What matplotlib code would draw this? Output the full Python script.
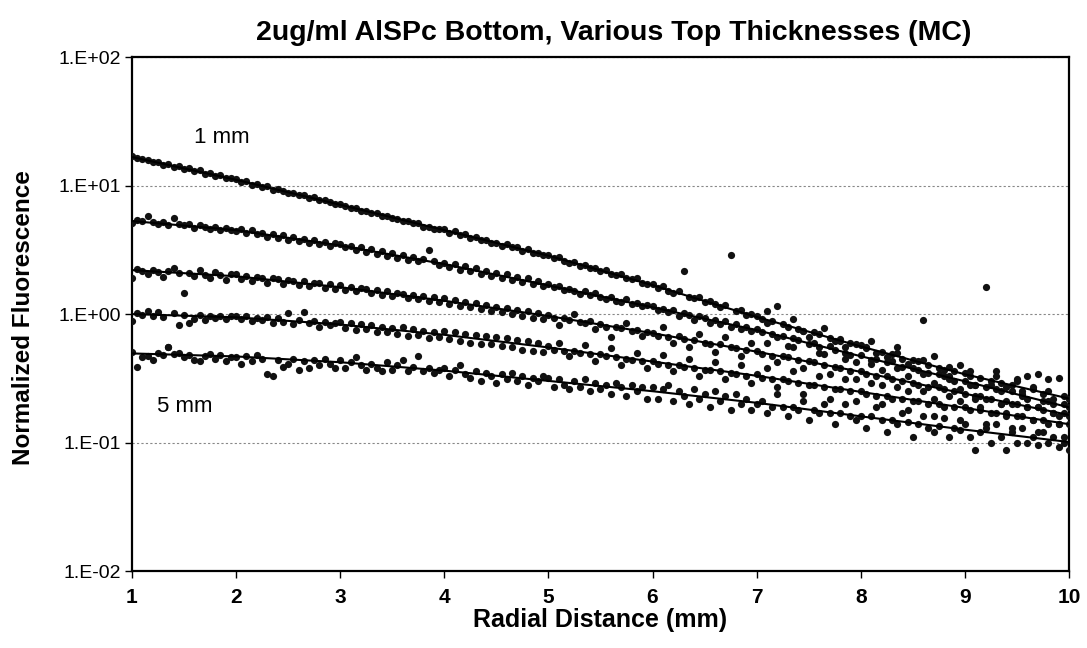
import numpy as np
import matplotlib
matplotlib.use("Agg")
import matplotlib.pyplot as plt
from matplotlib.ticker import NullLocator

# Arial look-alike
plt.rcParams['font.family'] = ['Liberation Sans', 'DejaVu Sans']

# radial positions of the Monte Carlo bins (mm)
radial = np.linspace(1, 10, 181)

# simulated points, one list per top thickness
mm1 = [16.9, 16.5, 16.1, 15.9, 15.2, 15.3, 14.6, 14.7, 14.0, 14.1, 13.4, 13.6, 12.9, 13.2, 12.4, 12.5, 11.9, 12.0, 11.4, 11.5,
       11.3, 10.7, 10.8, 10.2, 10.3, 9.8, 9.9, 9.3, 9.4, 9.0, 8.8, 8.8, 8.4, 8.4, 8.0, 8.1, 7.7, 7.7, 7.5, 7.2,
       7.2, 6.9, 6.7, 6.7, 6.4, 6.4, 6.1, 6.1, 5.8, 5.8, 5.6, 5.5, 5.3, 5.3, 5.1, 5.1, 4.8, 4.8, 4.6, 4.6,
       4.6, 4.3, 4.4, 4.1, 4.2, 3.9, 4.0, 3.8, 3.8, 3.6, 3.6, 3.4, 3.5, 3.3, 3.3, 3.1, 3.2, 3.0, 3.0, 2.9,
       2.9, 2.74, 2.76, 2.6, 2.5, 2.55, 2.38, 2.4, 2.28, 2.3, 2.15, 2.2, 2.05, 2.0, 2.06, 1.9, 1.86, 1.9, 1.75, 1.72,
       1.7, 1.6, 1.64, 1.52, 1.47, 1.5, 2.16, 1.36, 1.33, 1.37, 1.25, 1.27, 1.2, 1.14, 1.18, 2.88, 1.05, 1.08, 0.99, 1.0,
       0.96, 0.92, 1.05, 0.88, 1.15, 0.83, 0.8, 0.92, 0.77, 0.74, 0.66, 0.72, 0.7, 0.78, 0.65, 0.62, 0.64, 0.55, 0.6, 0.58,
       0.57, 0.54, 0.62, 0.5, 0.51, 0.46, 0.49, 0.55, 0.45, 0.41, 0.44, 0.43, 0.9, 0.4, 0.47, 0.38, 0.37, 0.33, 0.36, 0.4,
       0.35, 0.33, 0.28, 0.32, 1.62, 0.3, 0.36, 0.29, 0.27, 0.28, 0.31, 0.25, 0.33, 0.26, 0.34, 0.24, 0.31, 0.22, 0.32, 0.23, 0.22]

mm2 = [5.1, 5.4, 5.3, 5.8, 5.2, 5.0, 5.2, 4.9, 5.6, 5.0, 4.9, 5.0, 4.7, 4.9, 4.8, 4.6, 4.75, 4.55, 4.7, 4.5,
       4.4, 4.6, 4.3, 4.5, 4.2, 4.3, 4.0, 4.2, 3.9, 4.1, 3.8, 4.0, 3.7, 3.85, 3.6, 3.75, 3.5, 3.65, 3.4, 3.55,
       3.5, 3.3, 3.4, 3.15, 3.3, 3.05, 3.2, 2.95, 3.1, 2.85, 3.0, 2.75, 2.9, 2.65, 2.8, 2.6, 2.7, 3.15, 2.6, 2.4,
       2.5, 2.32, 2.45, 2.22, 2.35, 2.15, 2.28, 2.05, 2.18, 1.98, 2.1, 1.9, 2.05, 1.83, 1.95, 1.77, 1.9, 1.7, 1.82, 1.65,
       1.7, 1.62, 1.66, 1.55, 1.58, 1.5, 1.44, 1.5, 1.4, 1.45, 1.36, 1.3, 1.37, 1.27, 1.24, 1.3, 1.2, 1.22, 1.15, 1.17,
       1.16, 1.07, 1.1, 1.03, 1.08, 0.97, 1.02, 0.99, 0.9, 0.96, 0.93, 0.86, 0.9, 0.84, 0.88, 0.8, 0.83, 0.77, 0.79, 0.74,
       0.76, 0.72, 0.86, 0.7, 0.66, 0.68, 0.56, 0.65, 0.63, 0.74, 0.58, 0.6, 0.55, 0.49, 0.56, 0.53, 0.62, 0.5, 0.48, 0.42,
       0.48, 0.55, 0.44, 0.45, 0.37, 0.42, 0.43, 0.5, 0.39, 0.33, 0.38, 0.37, 0.44, 0.35, 0.29, 0.34, 0.33, 0.39, 0.3, 0.26,
       0.3, 0.36, 0.28, 0.23, 0.27, 0.28, 0.33, 0.25, 0.21, 0.25, 0.3, 0.23, 0.22, 0.27, 0.19, 0.21, 0.25, 0.2, 0.16, 0.2, 0.19]

mm3 = [1.92, 2.25, 2.15, 2.05, 2.22, 2.12, 1.95, 2.18, 2.28, 2.08, 1.46, 2.1, 1.98, 2.2, 2.02, 1.9, 2.12, 2.0, 1.85, 2.05,
       2.05, 1.88, 1.98, 1.82, 1.95, 1.92, 1.75, 1.9, 1.86, 1.7, 1.85, 1.8, 1.68, 1.82, 1.65, 1.74, 1.76, 1.6, 1.7, 1.58,
       1.68, 1.55, 1.62, 1.5, 1.6, 1.57, 1.45, 1.53, 1.42, 1.5, 1.38, 1.47, 1.44, 1.33, 1.42, 1.3, 1.39, 1.27, 1.36, 1.24,
       1.33, 1.2, 1.28, 1.16, 1.25, 1.13, 1.22, 1.1, 1.18, 1.06, 1.14, 1.03, 1.12, 1.0, 1.08, 0.97, 1.05, 0.94, 1.02, 0.92,
       0.98, 0.94, 0.82, 0.93, 0.9, 1.0, 0.87, 0.85, 0.88, 0.76, 0.84, 0.8, 0.66, 0.79, 0.78, 0.86, 0.74, 0.75, 0.68, 0.72,
       0.71, 0.68, 0.79, 0.66, 0.6, 0.67, 0.64, 0.55, 0.63, 0.7, 0.6, 0.59, 0.51, 0.58, 0.66, 0.55, 0.54, 0.47, 0.53, 0.6,
       0.52, 0.49, 0.6, 0.47, 0.42, 0.47, 0.46, 0.55, 0.44, 0.38, 0.43, 0.42, 0.5, 0.4, 0.34, 0.39, 0.38, 0.45, 0.36, 0.31,
       0.36, 0.34, 0.41, 0.33, 0.28, 0.33, 0.31, 0.38, 0.3, 0.25, 0.29, 0.28, 0.34, 0.27, 0.22, 0.27, 0.26, 0.31, 0.25, 0.21,
       0.24, 0.28, 0.23, 0.19, 0.22, 0.22, 0.26, 0.2, 0.17, 0.2, 0.2, 0.24, 0.19, 0.15, 0.19, 0.18, 0.21, 0.17, 0.14, 0.17, 0.16]

mm4 = [0.88, 1.02, 0.98, 1.05, 0.97, 1.03, 0.95, 0.55, 1.02, 0.82, 0.98, 0.85, 0.92, 0.99, 0.9, 0.96, 0.93, 0.97, 0.92, 0.96,
       0.96, 0.91, 0.97, 0.88, 0.94, 0.9, 0.95, 0.85, 0.93, 0.87, 1.02, 0.84, 0.9, 1.04, 0.85, 0.89, 0.79, 0.87, 0.82, 0.86,
       0.87, 0.78, 0.85, 0.75, 0.83, 0.76, 0.82, 0.72, 0.8, 0.73, 0.78, 0.7, 0.79, 0.68, 0.76, 0.69, 0.74, 0.65, 0.73, 0.66,
       0.74, 0.64, 0.72, 0.62, 0.7, 0.6, 0.69, 0.59, 0.68, 0.58, 0.66, 0.56, 0.65, 0.55, 0.63, 0.53, 0.62, 0.52, 0.6, 0.51,
       0.56, 0.53, 0.6, 0.52, 0.47, 0.52, 0.5, 0.57, 0.49, 0.43, 0.49, 0.47, 0.54, 0.46, 0.4, 0.45, 0.44, 0.5, 0.43, 0.38,
       0.43, 0.41, 0.48, 0.4, 0.36, 0.4, 0.39, 0.45, 0.38, 0.33, 0.37, 0.37, 0.42, 0.36, 0.31, 0.35, 0.34, 0.4, 0.33, 0.29,
       0.34, 0.32, 0.38, 0.31, 0.27, 0.31, 0.3, 0.36, 0.29, 0.24, 0.28, 0.28, 0.33, 0.27, 0.22, 0.26, 0.26, 0.31, 0.25, 0.21,
       0.25, 0.24, 0.29, 0.23, 0.2, 0.23, 0.22, 0.27, 0.22, 0.18, 0.21, 0.21, 0.25, 0.2, 0.16, 0.2, 0.19, 0.23, 0.19, 0.15,
       0.19, 0.18, 0.22, 0.18, 0.14, 0.17, 0.17, 0.2, 0.16, 0.13, 0.16, 0.16, 0.19, 0.15, 0.12, 0.15, 0.14, 0.17, 0.14, 0.11, 0.14]

mm5 = [0.51, 0.39, 0.46, 0.47, 0.44, 0.5, 0.48, 0.55, 0.49, 0.5, 0.46, 0.48, 0.44, 0.43, 0.47, 0.49, 0.45, 0.48, 0.43, 0.46,
       0.46, 0.41, 0.47, 0.43, 0.48, 0.45, 0.34, 0.33, 0.44, 0.39, 0.41, 0.45, 0.37, 0.43, 0.38, 0.44, 0.4, 0.45, 0.41, 0.38,
       0.44, 0.38, 0.42, 0.46, 0.4, 0.37, 0.41, 0.38, 0.36, 0.42, 0.37, 0.4, 0.44, 0.36, 0.39, 0.47, 0.36, 0.38, 0.35, 0.37,
       0.38, 0.33, 0.37, 0.4, 0.34, 0.32, 0.36, 0.3, 0.35, 0.33, 0.29, 0.34, 0.31, 0.35, 0.3, 0.33, 0.28, 0.32, 0.3, 0.33,
       0.32, 0.27, 0.31, 0.28, 0.26, 0.3, 0.27, 0.31, 0.25, 0.29, 0.26, 0.28, 0.24, 0.29, 0.27, 0.23, 0.28, 0.25, 0.27, 0.22,
       0.27, 0.22, 0.26, 0.28, 0.21, 0.25, 0.23, 0.2, 0.26, 0.22, 0.24, 0.19, 0.25, 0.21, 0.23, 0.18, 0.24, 0.2, 0.22, 0.18,
       0.2, 0.21, 0.17, 0.19, 0.24, 0.19, 0.16, 0.19, 0.18, 0.21, 0.15, 0.18, 0.17, 0.2, 0.17, 0.14, 0.17, 0.2, 0.16, 0.15,
       0.16, 0.13, 0.16, 0.19, 0.15, 0.12, 0.15, 0.14, 0.17, 0.145, 0.11, 0.14, 0.16, 0.13, 0.12, 0.135, 0.155, 0.11, 0.13, 0.125,
       0.14, 0.11, 0.087, 0.12, 0.13, 0.1, 0.14, 0.11, 0.088, 0.12, 0.1, 0.13, 0.1, 0.11, 0.095, 0.12, 0.1, 0.11, 0.093, 0.1, 0.087]

# fitted curves, read at whole millimetres
fit_x = [1, 2, 3, 4, 5, 6, 7, 8, 9, 10]
fit1 = [16.7, 11.1, 7.1, 4.5, 2.85, 1.68, 0.95, 0.56, 0.34, 0.22]
fit2 = [5.3, 4.5, 3.42, 2.45, 1.67, 1.13, 0.75, 0.47, 0.30, 0.188]
fit3 = [2.2, 1.97, 1.62, 1.27, 0.966, 0.71, 0.51, 0.355, 0.24, 0.164]
fit4 = [1.0, 0.944, 0.83, 0.69, 0.55, 0.427, 0.331, 0.248, 0.186, 0.139]
fit5 = [0.494, 0.468, 0.422, 0.363, 0.302, 0.251, 0.204, 0.160, 0.126, 0.101]

y_ticks = [0.01, 0.1, 1, 10, 100]
y_labels = ['1.E-02', '1.E-01', '1.E+00', '1.E+01', '1.E+02']
x_ticks = [1, 2, 3, 4, 5, 6, 7, 8, 9, 10]

fig = plt.figure(figsize=(10.87, 6.48), dpi=100)
ax = fig.add_axes([0.1214, 0.1188, 0.862, 0.793])

for pts in [mm1, mm2, mm3, mm4, mm5]:
    ax.plot(radial, pts, linestyle='none', marker='o', markersize=5.2,
            color='#111111', markeredgewidth=0, zorder=3)
for fit in [fit1, fit2, fit3, fit4, fit5]:
    ax.plot(fit_x, fit, color='black', linewidth=1.5, zorder=4)

ax.set_yscale('log')
ax.set_xlim(1, 10)
ax.set_ylim(0.01, 100)
ax.set_yticks(y_ticks)
ax.set_yticklabels(y_labels)
ax.yaxis.set_minor_locator(NullLocator())
ax.set_xticks(x_ticks)
ax.set_xticklabels([str(t) for t in x_ticks], fontweight='bold')
ax.tick_params(axis='y', labelsize=14, length=5, width=1, pad=3)
ax.tick_params(axis='x', labelsize=15, length=5, width=1, pad=7)
ax.grid(axis='y', which='major', color='#888888', linestyle=(0, (2, 2)), linewidth=0.8)

for s in ax.spines.values():
    s.set_linewidth(1.6)

ax.text(1.6, 23.8, '1 mm', fontsize=16, ha='left', va='center')
ax.text(1.24, 0.192, '5 mm', fontsize=16, ha='left', va='center')

fig.text(0.565, 0.949, '2ug/ml AlSPc Bottom, Various Top Thicknesses (MC)',
         fontsize=20.5, fontweight='bold', ha='center', va='center')
fig.text(0.552, 0.043, 'Radial Distance (mm)', fontsize=18, fontweight='bold',
         ha='center', va='center')
fig.text(0.022, 0.51, 'Normalized Fluorescence', fontsize=17.5, fontweight='bold',
         rotation=90, ha='center', va='center')

fig.savefig('out.png', dpi=100)
